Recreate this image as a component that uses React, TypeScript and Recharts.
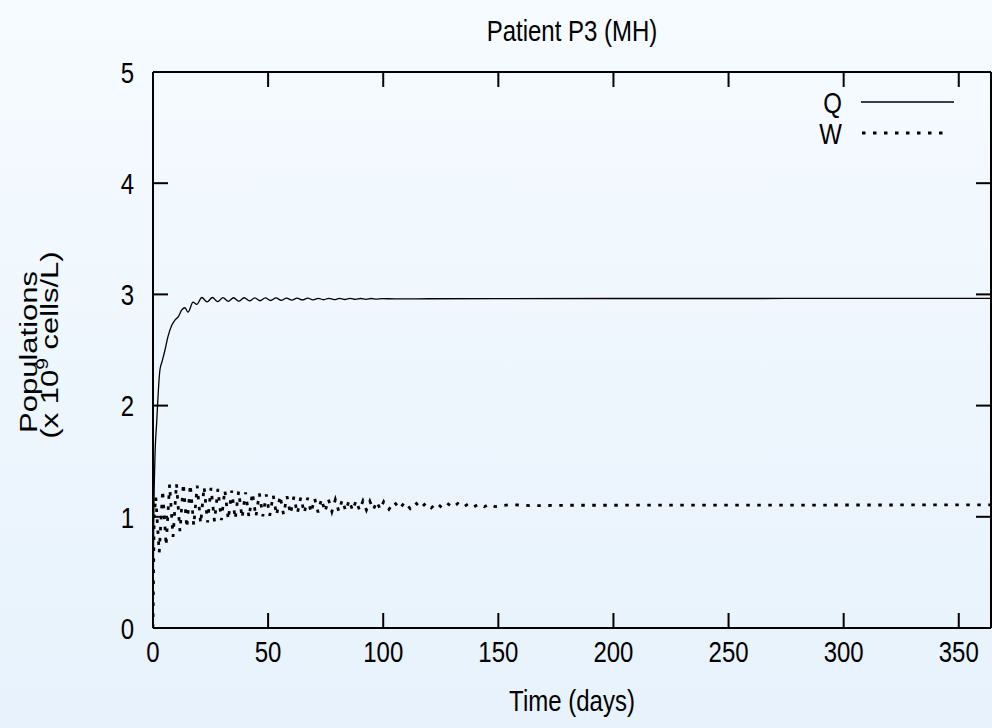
import React from 'react';
import { LineChart, Line, XAxis, YAxis, Legend } from 'recharts';

// tick labels
const X_TICKS = [0, 50, 100, 150, 200, 250, 300, 350];
const Y_TICKS = [0, 1, 2, 3, 4, 5];

// Q: quick rise, then small damped wiggle around ~2.96
const Q_TIME = [
  0, 0.3, 0.8, 1.6, 3, 4, 5.2, 6.5, 8.1, 9.6, 11, 12.5, 13.9, 15.2, 17.4, 19,
  21.2, 23.5, 25.8, 28.1, 30.4, 32.7, 35.0, 37.3, 39.6, 41.9, 44.2, 46.5, 48.8,
  51.1, 53.4, 55.7, 58.0, 60.3, 62.6, 64.9, 67.2, 69.5, 71.8, 74.1, 76.4, 78.7,
  81.0, 83.3, 85.6, 87.9, 90.2, 92.5, 94.8, 97.1, 99.4, 105, 120, 150, 200, 250,
  300, 364,
];
const Q_VALUES = [
  0, 0.9, 1.5, 1.85, 2.32, 2.4, 2.5, 2.62, 2.72, 2.77, 2.8, 2.86, 2.88, 2.84, 2.93, 2.91,
  2.972, 2.932, 2.972, 2.935, 2.971, 2.937, 2.97, 2.939, 2.97, 2.941, 2.969, 2.943, 2.968,
  2.945, 2.968, 2.947, 2.967, 2.948, 2.966, 2.95, 2.966, 2.951, 2.965, 2.952, 2.965, 2.953,
  2.964, 2.954, 2.964, 2.955, 2.963, 2.956, 2.963, 2.957, 2.962, 2.96, 2.961, 2.962, 2.963, 2.963,
  2.964, 2.964,
];

// W: fast oscillation, damping towards ~1.1 (peaks / troughs)
const W_TIME = [
  0, 0.5,
  1.2, 2.7, 4.2, 5.7, 7.2, 8.7, 10.2, 11.7, 13.2, 14.7,
  16.2, 17.7, 19.2, 20.7, 22.2, 23.7, 25.2, 26.7, 28.2, 29.7,
  31.2, 32.7, 34.2, 35.7, 37.2, 38.7, 40.2, 41.7, 43.2, 44.7,
  46.2, 47.7, 49.2, 50.7, 52.2, 53.7, 55.2, 56.7, 58.2, 59.7,
  61.2, 62.7, 64.2, 65.7, 67.2, 68.7, 70.2, 71.7, 73.2, 74.7,
  76.2, 77.7, 79.2, 80.7, 82.2, 83.7, 85.2, 86.7, 88.2, 89.7,
  91.2, 92.7, 94.2, 95.7, 97.2, 98.7, 100.2,
  102.5, 104.8, 107.1, 109.4, 111.7, 114.0, 116.3, 118.6, 120.9, 123.2,
  125.5, 127.8, 130.1, 132.4, 134.7, 137.0, 139.3, 141.6, 143.9, 146.2,
  148.5, 155, 165, 180, 200, 250, 300, 364,
];
const W_VALUES = [
  0, 1.0,
  1.18, 0.68, 1.24, 0.74, 1.29, 0.82, 1.3, 0.87, 1.3, 0.9,
  1.29, 0.92, 1.28, 0.94, 1.27, 0.95, 1.26, 0.96, 1.25, 0.97,
  1.24, 0.975, 1.235, 0.98, 1.23, 0.99, 1.22, 0.995, 1.215, 1.0,
  1.21, 1.005, 1.2, 1.01, 1.195, 1.015, 1.19, 1.02, 1.185, 1.025,
  1.18, 1.03, 1.175, 1.033, 1.17, 1.037, 1.166, 1.04, 1.162, 1.044,
  1.158, 1.047, 1.155, 1.05, 1.152, 1.053, 1.149, 1.056, 1.146, 1.059,
  1.143, 1.061, 1.14, 1.064, 1.138, 1.066, 1.136,
  1.068, 1.134, 1.071, 1.132, 1.074, 1.129, 1.077, 1.126, 1.08, 1.124,
  1.082, 1.122, 1.084, 1.12, 1.086, 1.118, 1.088, 1.116, 1.09, 1.114,
  1.092, 1.11, 1.1, 1.104, 1.104, 1.105, 1.106, 1.107,
];

const qData = Q_TIME.map((t, i) => ({ t, q: Q_VALUES[i] }));
const wData = W_TIME.map((t, i) => ({ t, w: W_VALUES[i] }));

const FONT = '"Liberation Sans", Arial, Helvetica, sans-serif';
const FS = 30;
const SQ = 0.8; // glyphs in the original are narrow (horizontally squeezed)

const XTick = ({ x, y, payload }: any) => (
  <text
    transform={`translate(${x},${y}) scale(${SQ},1)`}
    textAnchor="middle"
    fontFamily={FONT}
    fontSize={FS}
    fill="#000"
  >
    {payload.value}
  </text>
);

const YTick = ({ x, y, payload }: any) => (
  <text
    transform={`translate(${x},${y + FS * 0.36}) scale(${SQ},1)`}
    textAnchor="end"
    fontFamily={FONT}
    fontSize={FS}
    fill="#000"
  >
    {payload.value}
  </text>
);

// mirror axes: tick marks only, no labels
const NoLabel = () => null;

const Title = () => (
  <text
    transform={`translate(572,41) scale(${SQ},1)`}
    textAnchor="middle"
    fontFamily={FONT}
    fontSize={FS}
    fill="#000"
  >
    Patient P3 (MH)
  </text>
);

const XLabel = () => (
  <text
    transform={`translate(572,711) scale(${SQ},1)`}
    textAnchor="middle"
    fontFamily={FONT}
    fontSize={FS}
    fill="#000"
  >
    Time (days)
  </text>
);

const YLabel = () => (
  <g fontFamily={FONT} fontSize={31} fill="#000">
    <text transform={`translate(37,352) rotate(-90) scale(1,${SQ})`} textAnchor="middle">
      Populations
    </text>
    <text transform={`translate(58,345) rotate(-90) scale(1,${SQ})`} textAnchor="middle">
      <tspan>(x 10</tspan>
      <tspan dy={-12} fontSize={21}>9</tspan>
      <tspan dy={12}> cells/L)</tspan>
    </text>
  </g>
);

const KeyBox = () => (
  <div style={{ height: 0, overflow: 'visible' }}>
    <svg width={210} height={80} style={{ display: 'block', overflow: 'visible' }}>
      <g fontFamily={FONT} fontSize={FS} fill="#000">
        <text transform={`translate(62,28) scale(${SQ},1)`} textAnchor="end">Q</text>
        <text transform={`translate(62,59) scale(${SQ},1)`} textAnchor="end">W</text>
      </g>
      <line x1={81} x2={174} y1={17} y2={17} stroke="#000" strokeWidth={1.3} />
      <line x1={82} x2={168} y1={48} y2={48} stroke="#000" strokeWidth={2.8} strokeDasharray="3.5 7.5" />
    </svg>
  </div>
);

const axisStyle = { stroke: '#000', strokeWidth: 2 };

export default function App() {
  return (
    <div
      style={{
        position: 'absolute',
        left: 0,
        top: 0,
        width: 992,
        height: 728,
        background: 'linear-gradient(180deg, #f6fbff 0%, #e7f2fc 100%)',
      }}
    >
      <LineChart width={992} height={728} margin={{ top: 71, right: 0, bottom: 0, left: 0 }}>
        <XAxis
          xAxisId="b"
          dataKey="t"
          type="number"
          domain={[0, 364]}
          ticks={X_TICKS}
          allowDataOverflow
          height={100}
          tickSize={-15}
          tickMargin={49}
          tick={<XTick />}
          axisLine={axisStyle}
          tickLine={axisStyle}
          label={{ content: () => <XLabel /> }}
        />
        <XAxis
          xAxisId="t"
          orientation="top"
          dataKey="t"
          type="number"
          domain={[0, 364]}
          ticks={X_TICKS}
          allowDataOverflow
          height={1}
          tickSize={-15}
          tick={<NoLabel />}
          axisLine={axisStyle}
          tickLine={axisStyle}
          label={{ content: () => <Title /> }}
        />
        <YAxis
          yAxisId="l"
          type="number"
          domain={[0, 5]}
          ticks={Y_TICKS}
          allowDataOverflow
          width={153}
          tickSize={-15}
          tickMargin={34}
          tick={<YTick />}
          axisLine={axisStyle}
          tickLine={axisStyle}
          label={{ content: () => <YLabel /> }}
        />
        <YAxis
          yAxisId="r"
          orientation="right"
          type="number"
          domain={[0, 5]}
          ticks={Y_TICKS}
          allowDataOverflow
          width={1}
          tickSize={-15}
          tick={<NoLabel />}
          axisLine={axisStyle}
          tickLine={axisStyle}
        />
        <Legend
          content={() => <KeyBox />}
          wrapperStyle={{ top: 85, left: 780, width: 210, height: 0, overflow: 'visible' }}
        />
        <Line
          xAxisId="b"
          yAxisId="l"
          data={qData}
          dataKey="q"
          name="Q"
          type="monotone"
          stroke="#000"
          strokeWidth={1.3}
          dot={false}
          isAnimationActive={false}
        />
        <Line
          xAxisId="t"
          yAxisId="r"
          data={wData}
          dataKey="w"
          name="W"
          type="linear"
          stroke="#000"
          strokeWidth={2.8}
          strokeDasharray="3.5 7.5"
          dot={false}
          isAnimationActive={false}
        />
      </LineChart>
    </div>
  );
}
